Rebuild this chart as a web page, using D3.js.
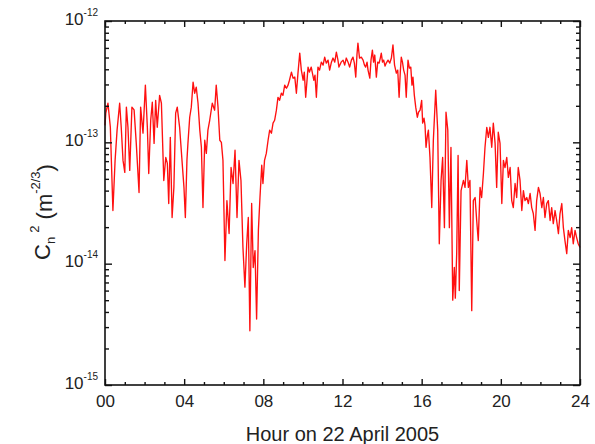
<!DOCTYPE html>
<html>
<head>
<meta charset="utf-8">
<script src="https://cdn.jsdelivr.net/npm/d3@7"></script>
<style>
  body { margin: 0; background: #fff; }
  svg text { font-family: "Liberation Sans", Arial, sans-serif; fill: #222; }
</style>
</head>
<body>
<svg id="cn2" width="595" height="444"></svg>
<script>
var hours = [
  0.00, 0.04, 0.15, 0.27, 0.40, 0.51, 0.61, 0.74, 0.82, 0.91, 1.00, 1.08, 1.16, 1.25, 1.36, 1.47, 1.58, 1.72, 1.80, 1.92,
  2.04, 2.14, 2.21, 2.31, 2.39, 2.48, 2.56, 2.64, 2.76, 2.85, 2.97, 3.07, 3.15, 3.22, 3.30, 3.39, 3.48, 3.57, 3.65, 3.77,
  3.89, 3.99, 4.06, 4.14, 4.19, 4.28, 4.36, 4.45, 4.53, 4.61, 4.70, 4.79, 4.87, 4.95, 5.04, 5.12, 5.20, 5.29, 5.42, 5.54,
  5.62, 5.71, 5.80, 5.88, 5.96, 6.06, 6.16, 6.27, 6.37, 6.47, 6.57, 6.67, 6.77, 6.87, 6.97, 7.07, 7.16, 7.24, 7.32, 7.41,
  7.49, 7.58, 7.66, 7.75, 7.83, 7.92, 7.98, 8.06, 8.15, 8.24, 8.32, 8.41, 8.49, 8.57, 8.66, 8.74, 8.82, 8.91, 8.99, 9.08,
  9.17, 9.25, 9.32, 9.42, 9.50, 9.59, 9.67, 9.75, 9.84, 9.92, 10.01, 10.07, 10.14, 10.26, 10.33, 10.42, 10.55, 10.61, 10.68, 10.76,
  10.84, 10.93, 11.02, 11.10, 11.18, 11.27, 11.35, 11.44, 11.52, 11.61, 11.69, 11.77, 11.82, 11.93, 12.03, 12.11, 12.19, 12.28, 12.36, 12.45,
  12.53, 12.60, 12.67, 12.73, 12.78, 12.86, 12.95, 13.04, 13.11, 13.17, 13.24, 13.29, 13.38, 13.44, 13.51, 13.57, 13.63, 13.71, 13.78, 13.85,
  13.91, 13.96, 14.02, 14.08, 14.15, 14.21, 14.30, 14.39, 14.47, 14.55, 14.63, 14.72, 14.79, 14.86, 14.92, 14.97, 15.03, 15.09, 15.16, 15.22,
  15.31, 15.38, 15.45, 15.51, 15.56, 15.63, 15.70, 15.78, 15.84, 15.92, 16.00, 16.05, 16.12, 16.17, 16.22, 16.29, 16.34, 16.42, 16.51, 16.59,
  16.71, 16.81, 16.89, 16.98, 17.06, 17.15, 17.23, 17.32, 17.40, 17.48, 17.57, 17.65, 17.70, 17.77, 17.84, 17.90, 17.99, 18.11, 18.19, 18.28,
  18.36, 18.44, 18.53, 18.61, 18.70, 18.78, 18.86, 18.95, 19.03, 19.12, 19.20, 19.29, 19.37, 19.45, 19.54, 19.62, 19.71, 19.79, 19.87, 19.96,
  20.05, 20.13, 20.21, 20.30, 20.38, 20.47, 20.55, 20.63, 20.72, 20.80, 20.88, 20.97, 21.06, 21.14, 21.22, 21.31, 21.39, 21.48, 21.56, 21.64,
  21.73, 21.81, 21.90, 21.98, 22.07, 22.15, 22.23, 22.32, 22.40, 22.49, 22.57, 22.65, 22.74, 22.82, 22.91, 22.99, 23.08, 23.16, 23.24, 23.33,
  23.41, 23.50, 23.58, 23.66, 23.75, 23.83, 23.91, 24.00
];

var cn2 = [
  1.38e-13, 1.74e-13, 2.10e-13, 1.33e-13, 2.74e-14, 7.1e-14, 1.26e-13, 2.10e-13, 1.33e-13, 7.1e-14, 5.65e-14, 1.95e-13, 1.33e-13, 5.87e-14, 1.95e-13, 1.85e-13, 9.8e-14, 3.86e-14, 1.95e-13, 1.19e-13,
  2.96e-13, 1.33e-13, 5.54e-14, 1.52e-13, 2.14e-13, 9.8e-14, 2.22e-13, 1.33e-13, 2.44e-13, 2.10e-13, 4.85e-14, 7.5e-14, 6.7e-14, 3.13e-14, 1.10e-13, 2.40e-14, 4.25e-14, 1.74e-13, 1.95e-13, 1.33e-13,
  7.1e-14, 4.25e-14, 2.40e-14, 7.1e-14, 9.8e-14, 1.61e-13, 1.95e-13, 3.13e-13, 2.54e-13, 2.85e-13, 2.10e-13, 1.26e-13, 9.1e-14, 2.90e-14, 1.04e-13, 8.1e-14, 1.26e-13, 1.52e-13, 2.10e-13, 1.84e-13,
  2.96e-13, 1.95e-13, 1.04e-13, 1.00e-13, 7.1e-14, 1.06e-14, 3.31e-14, 1.77e-14, 6.2e-14, 4.58e-14, 8.6e-14, 2.40e-14, 7.1e-14, 4.85e-14, 1.36e-14, 6.4e-15, 1.46e-14, 2.40e-14, 2.8e-15, 3.13e-14,
  9.3e-15, 1.28e-14, 3.5e-15, 1.88e-14, 3.51e-14, 6.47e-14, 4.58e-14, 7.1e-14, 8.1e-14, 1.04e-13, 1.26e-13, 1.19e-13, 1.44e-13, 1.52e-13, 1.84e-13, 2.35e-13, 2.22e-13, 2.54e-13, 2.44e-13, 2.96e-13,
  2.79e-13, 2.96e-13, 3.25e-13, 3.79e-13, 3.38e-13, 3.45e-13, 2.54e-13, 3.72e-13, 5.44e-13, 3.94e-13, 3.25e-13, 3.79e-13, 2.35e-13, 4.17e-13, 3.79e-13, 4.17e-13, 3.25e-13, 3.58e-13, 2.35e-13, 4.17e-13,
  3.94e-13, 4.58e-13, 4.33e-13, 5.04e-13, 4.50e-13, 4.76e-13, 3.94e-13, 4.58e-13, 4.95e-13, 4.58e-13, 5.54e-13, 4.76e-13, 4.17e-13, 4.58e-13, 4.76e-13, 4.33e-13, 4.95e-13, 4.58e-13, 4.17e-13, 4.76e-13,
  5.04e-13, 4.50e-13, 3.45e-13, 5.24e-13, 6.58e-13, 4.95e-13, 5.04e-13, 4.76e-13, 4.33e-13, 4.17e-13, 4.58e-13, 3.94e-13, 3.38e-13, 4.76e-13, 5.76e-13, 4.58e-13, 5.24e-13, 3.45e-13, 4.58e-13, 4.50e-13,
  4.95e-13, 5.44e-13, 4.58e-13, 4.76e-13, 4.25e-13, 4.50e-13, 4.76e-13, 4.50e-13, 4.95e-13, 6.35e-13, 4.33e-13, 3.72e-13, 3.94e-13, 2.35e-13, 3.79e-13, 5.04e-13, 4.58e-13, 3.94e-13, 3.58e-13, 2.35e-13,
  4.76e-13, 4.09e-13, 4.17e-13, 2.96e-13, 3.45e-13, 2.44e-13, 1.95e-13, 1.61e-13, 1.77e-13, 1.84e-13, 2.22e-13, 1.44e-13, 1.58e-13, 1.38e-13, 9.1e-14, 1.14e-13, 1.26e-13, 7.5e-14, 2.90e-14, 1.04e-13,
  2.69e-13, 1.26e-13, 1.46e-14, 4.85e-14, 7.5e-14, 1.98e-14, 1.77e-13, 1.26e-13, 1.98e-14, 9.1e-14, 5.0e-15, 9.3e-15, 5.2e-15, 1.21e-14, 7.8e-14, 6.0e-15, 4.0e-14, 4.85e-14, 4.25e-14, 7.1e-14,
  4.25e-14, 4.85e-14, 4.1e-15, 3.31e-14, 3.51e-14, 2.27e-14, 1.55e-14, 4.25e-14, 3.51e-14, 5.54e-14, 9.1e-14, 1.33e-13, 1.10e-13, 1.33e-13, 9.1e-14, 1.44e-13, 9.8e-14, 4.25e-14, 1.21e-13, 9.8e-14,
  3.13e-14, 7.1e-14, 6.2e-14, 7.5e-14, 5.14e-14, 6.2e-14, 3.31e-14, 2.90e-14, 4.58e-14, 3.51e-14, 6.2e-14, 4.85e-14, 2.74e-14, 4.0e-14, 3.31e-14, 3.51e-14, 3.13e-14, 3.79e-14, 2.90e-14, 2.59e-14,
  1.88e-14, 3.31e-14, 4.25e-14, 3.79e-14, 2.90e-14, 3.51e-14, 2.40e-14, 3.13e-14, 3.31e-14, 2.27e-14, 2.90e-14, 2.14e-14, 2.74e-14, 2.27e-14, 1.77e-14, 2.59e-14, 3.13e-14, 1.98e-14, 1.55e-14, 1.21e-14,
  1.88e-14, 1.64e-14, 1.98e-14, 1.46e-14, 1.88e-14, 1.64e-14, 1.46e-14, 1.36e-14
];

var hourTicks = [0, 4, 8, 12, 16, 20, 24];
var hourMinor = [1, 2, 3, 5, 6, 7, 9, 10, 11, 13, 14, 15, 17, 18, 19, 21, 22, 23];
var decadeTicks = [1e-15, 1e-14, 1e-13, 1e-12];
var decadeExp = ["-15", "-14", "-13", "-12"];

var svg = d3.select("svg#cn2"),
    margin = { top: 21, right: 15, bottom: 59, left: 105 },
    width = +svg.attr("width") - margin.left - margin.right,
    height = +svg.attr("height") - margin.top - margin.bottom,
    g = svg.append("g").attr("transform", "translate(" + margin.left + "," + margin.top + ")");

var x = d3.scaleLinear().domain([0, 24]).range([0, width]);
var y = d3.scaleLog().domain([1e-15, 1e-12]).range([height, 0]);

var data = hours.map(function (h, i) { return { h: h, v: cn2[i] }; });

var minorY = y.ticks().filter(function (d) { return decadeTicks.indexOf(d) < 0; });

// the series
var line = d3.line()
    .x(function (d) { return x(d.h); })
    .y(function (d) { return y(d.v); });

g.append("path")
    .datum(data)
    .attr("fill", "none")
    .attr("stroke", "#ff1010")
    .attr("stroke-width", 1.35)
    .attr("stroke-linejoin", "round")
    .attr("d", line);

// axes: ticks on all four sides, pointing in
function styleAxis(sel) {
    sel.select(".domain").remove();
    sel.selectAll(".tick line").attr("stroke", "#111").attr("stroke-width", 1.4);
}

g.append("g")
    .attr("transform", "translate(0," + height + ")")
    .call(d3.axisBottom(x).tickValues(hourTicks).tickSize(-6).tickPadding(10)
        .tickFormat(function (d) { return d3.format("02d")(d); }))
    .call(styleAxis)
    .selectAll("text")
    .style("font-size", "17px")
    .attr("fill", "#222");

g.append("g")
    .attr("transform", "translate(0," + height + ")")
    .call(d3.axisBottom(x).tickValues(hourMinor).tickSize(-3).tickFormat(""))
    .call(styleAxis);

g.append("g")
    .call(d3.axisTop(x).tickValues(hourTicks).tickSize(-6).tickFormat(""))
    .call(styleAxis);

g.append("g")
    .call(d3.axisTop(x).tickValues(hourMinor).tickSize(-3).tickFormat(""))
    .call(styleAxis);

var left = g.append("g")
    .call(d3.axisLeft(y).tickValues(decadeTicks).tickSize(-7).tickPadding(7))
    .call(styleAxis);

left.selectAll(".tick text").each(function (d, i) {
    var t = d3.select(this).text(null).attr("fill", "#222");
    t.append("tspan").style("font-size", "17px").text("10");
    t.append("tspan").style("font-size", "10px").attr("dy", "-0.9em").text(decadeExp[i]);
});

g.append("g")
    .call(d3.axisLeft(y).tickValues(minorY).tickSize(-4).tickFormat(""))
    .call(styleAxis);

g.append("g")
    .attr("transform", "translate(" + width + ",0)")
    .call(d3.axisRight(y).tickValues(decadeTicks).tickSize(-7).tickFormat(""))
    .call(styleAxis);

g.append("g")
    .attr("transform", "translate(" + width + ",0)")
    .call(d3.axisRight(y).tickValues(minorY).tickSize(-4).tickFormat(""))
    .call(styleAxis);

// frame
g.append("rect")
    .attr("width", width)
    .attr("height", height)
    .attr("fill", "none")
    .attr("stroke", "#111")
    .attr("stroke-width", 1.6);

// axis titles
svg.append("text")
    .attr("x", margin.left + width / 2)
    .attr("y", 441)
    .attr("text-anchor", "middle")
    .style("font-size", "20px")
    .text("Hour on 22 April 2005");

var yt = svg.append("text")
    .attr("transform", "translate(50,212) rotate(-90)")
    .attr("text-anchor", "middle")
    .style("font-size", "22px");
yt.append("tspan").text("C");
yt.append("tspan").style("font-size", "13px").attr("dy", "0.35em").text("n");
yt.append("tspan").style("font-size", "13px").attr("dy", "-1.2em").attr("dx", "4").text("2");
yt.append("tspan").attr("dy", "0.6em").text(" (m");
yt.append("tspan").style("font-size", "13px").attr("dy", "-0.9em").text("-2/3");
yt.append("tspan").attr("dy", "0.55em").text(")");
</script>
</body>
</html>
